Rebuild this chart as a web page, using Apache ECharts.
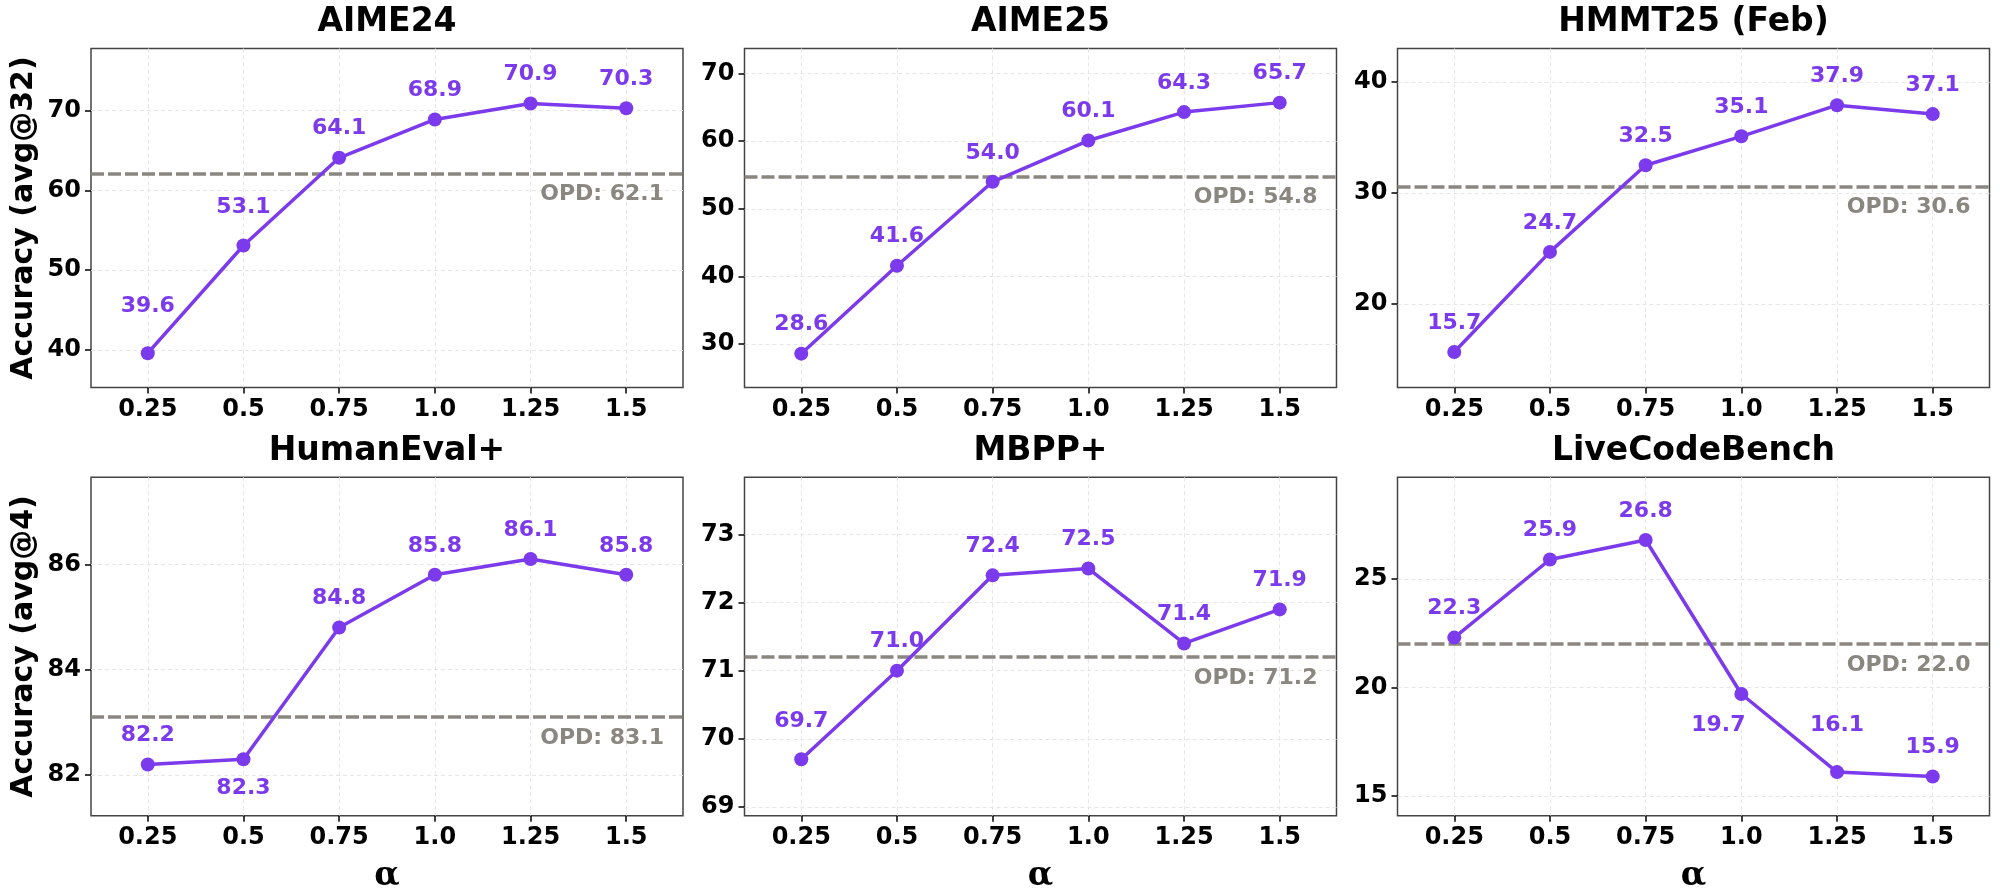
<!DOCTYPE html>
<html>
<head>
<meta charset="utf-8">
<script src="https://cdn.jsdelivr.net/npm/echarts@6/dist/echarts.min.js"></script>
<style>
  html, body { margin: 0; padding: 0; background: #fff; }
  #chart { width: 2000px; height: 895px; }
</style>
</head>
<body>
<div id="chart"></div>
<script>
// alpha sweep
const alphas = [0.25, 0.5, 0.75, 1.0, 1.25, 1.5];
const alphaLabels = ['0.25', '0.5', '0.75', '1.0', '1.25', '1.5'];

const benchmarks = ['AIME24', 'AIME25', 'HMMT25 (Feb)', 'HumanEval+', 'MBPP+', 'LiveCodeBench'];
const aime24 = [39.6, 53.1, 64.1, 68.9, 70.9, 70.3];
const aime25 = [28.6, 41.6, 54.0, 60.1, 64.3, 65.7];
const hmmt25 = [15.7, 24.7, 32.5, 35.1, 37.9, 37.1];
const humanevalPlus = [82.2, 82.3, 84.8, 85.8, 86.1, 85.8];
const mbppPlus = [69.7, 71.0, 72.4, 72.5, 71.4, 71.9];
const liveCodeBench = [22.3, 25.9, 26.8, 19.7, 16.1, 15.9];
const opdBaseline = [62.1, 54.8, 30.6, 83.1, 71.2, 22.0];

// y axis ticks and limits
const yTicks = [[40, 50, 60, 70], [30, 40, 50, 60, 70], [20, 30, 40], [82, 84, 86], [69, 70, 71, 72, 73], [15, 20, 25]];
const yLimits = [[35.3, 77.8], [23.6, 73.7], [12.5, 43.0], [81.23, 87.65], [68.87, 73.84], [14.09, 29.69]];
const yNames = ['Accuracy (avg@32)', '', '', 'Accuracy (avg@4)', '', ''];

const allSeries = [aime24, aime25, hmmt25, humanevalPlus, mbppPlus, liveCodeBench];

// label tweaks (style only)
const labelNudge = [
    {0: [0, -18], 1: [0, -9]},
    {},
    {},
    {1: 'below'},
    {0: [0, -9]},
    {3: 'belowLeft', 4: [0, -18]}
];

const PURPLE = '#7c3aed';
const GRAY = '#8a8780';
const FONT = 'DejaVu Sans';

const colLeft = [91, 744.5, 1397.5];
const colWidth = 592;
const rowTop = [48.5, 477.3];
const rowHeight = [339, 338.4];
const xPad = 0.1483;

let chart = echarts.init(document.getElementById('chart'), null, {renderer: 'canvas'});

let grids = [], xAxes = [], yAxes = [], series = [], titles = [];

benchmarks.forEach(function (name, i) {
    let col = i % 3, row = Math.floor(i / 3);
    grids.push({
        left: colLeft[col], top: rowTop[row], width: colWidth, height: rowHeight[row],
        show: true, borderColor: '#444', borderWidth: 1.5, backgroundColor: '#fff'
    });
    titles.push({
        text: name,
        left: colLeft[col] + colWidth / 2,
        top: row === 0 ? 6 : 435,
        textAlign: 'center',
        padding: 0,
        textStyle: {fontFamily: FONT, fontSize: 33, fontWeight: 'bold', color: '#000'}
    });
    xAxes.push({
        type: 'value', gridIndex: i,
        min: alphas[0] - xPad, max: alphas[alphas.length - 1] + xPad,
        name: row === 1 ? 'α' : '',
        nameLocation: 'middle', nameGap: 44,
        nameTextStyle: {fontFamily: 'DejaVu Serif', fontSize: 33, fontWeight: 'bold', color: '#000'},
        axisLine: {show: false},
        axisTick: {show: true, length: 6, customValues: alphas, lineStyle: {color: '#000', width: 1.5}},
        axisLabel: {
            customValues: alphas, margin: 10,
            fontFamily: FONT, fontSize: 24, fontWeight: 'bold', color: '#000',
            formatter: function (v) {
                let k = alphas.indexOf(v);
                return k >= 0 ? alphaLabels[k] : '';
            }
        },
        splitLine: {show: true, lineStyle: {color: '#e6e6e6', type: [4, 3], width: 1}}
    });
    yAxes.push({
        type: 'value', gridIndex: i,
        min: yLimits[i][0], max: yLimits[i][1],
        name: yNames[i], nameLocation: 'middle', nameGap: 52, nameRotate: 90,
        nameTextStyle: {fontFamily: FONT, fontSize: 30, fontWeight: 'bold', color: '#000'},
        axisLine: {show: false},
        axisTick: {show: true, length: 6, customValues: yTicks[i], lineStyle: {color: '#000', width: 1.5}},
        axisLabel: {
            customValues: yTicks[i], margin: 10,
            fontFamily: FONT, fontSize: 24, fontWeight: 'bold', color: '#000'
        },
        splitLine: {show: true, lineStyle: {color: '#e6e6e6', type: [4, 3], width: 1}}
    });

    let data = allSeries[i].map(function (v, k) {
        let item = {value: [alphas[k], v]};
        let n = labelNudge[i][k];
        if (n === 'below') {
            item.label = {position: 'bottom'};
        } else if (n === 'belowLeft') {
            item.label = {position: 'bottom', offset: [-23, 2]};
        } else if (n) {
            item.label = {offset: n};
        }
        return item;
    });

    series.push({
        type: 'line', xAxisIndex: i, yAxisIndex: i,
        data: data,
        symbol: 'circle', symbolSize: 14,
        lineStyle: {color: PURPLE, width: 3.5},
        itemStyle: {color: PURPLE},
        z: 3,
        label: {
            show: true, position: 'top', distance: 11,
            fontFamily: FONT, fontSize: 22, fontWeight: 'bold', color: PURPLE,
            formatter: function (p) { return p.value[1].toFixed(1); }
        },
        markLine: {
            silent: true,
            symbol: ['none', 'none'],
            z: 2,
            lineStyle: {color: GRAY, width: 3.5, type: [13, 4]},
            label: {
                show: true, position: 'insideEndBottom', distance: [19, 10],
                fontFamily: FONT, fontSize: 22, fontWeight: 'bold', color: GRAY,
                formatter: function (p) { return 'OPD: ' + p.value.toFixed(1); }
            },
            data: [{yAxis: opdBaseline[i]}]
        }
    });
});

let option = {
    backgroundColor: '#fff',
    animation: false,
    title: titles,
    grid: grids,
    xAxis: xAxes,
    yAxis: yAxes,
    series: series
};

chart.setOption(option, true);
window.onresize = () => {
    chart.resize();
};
</script>
</body>
</html>
